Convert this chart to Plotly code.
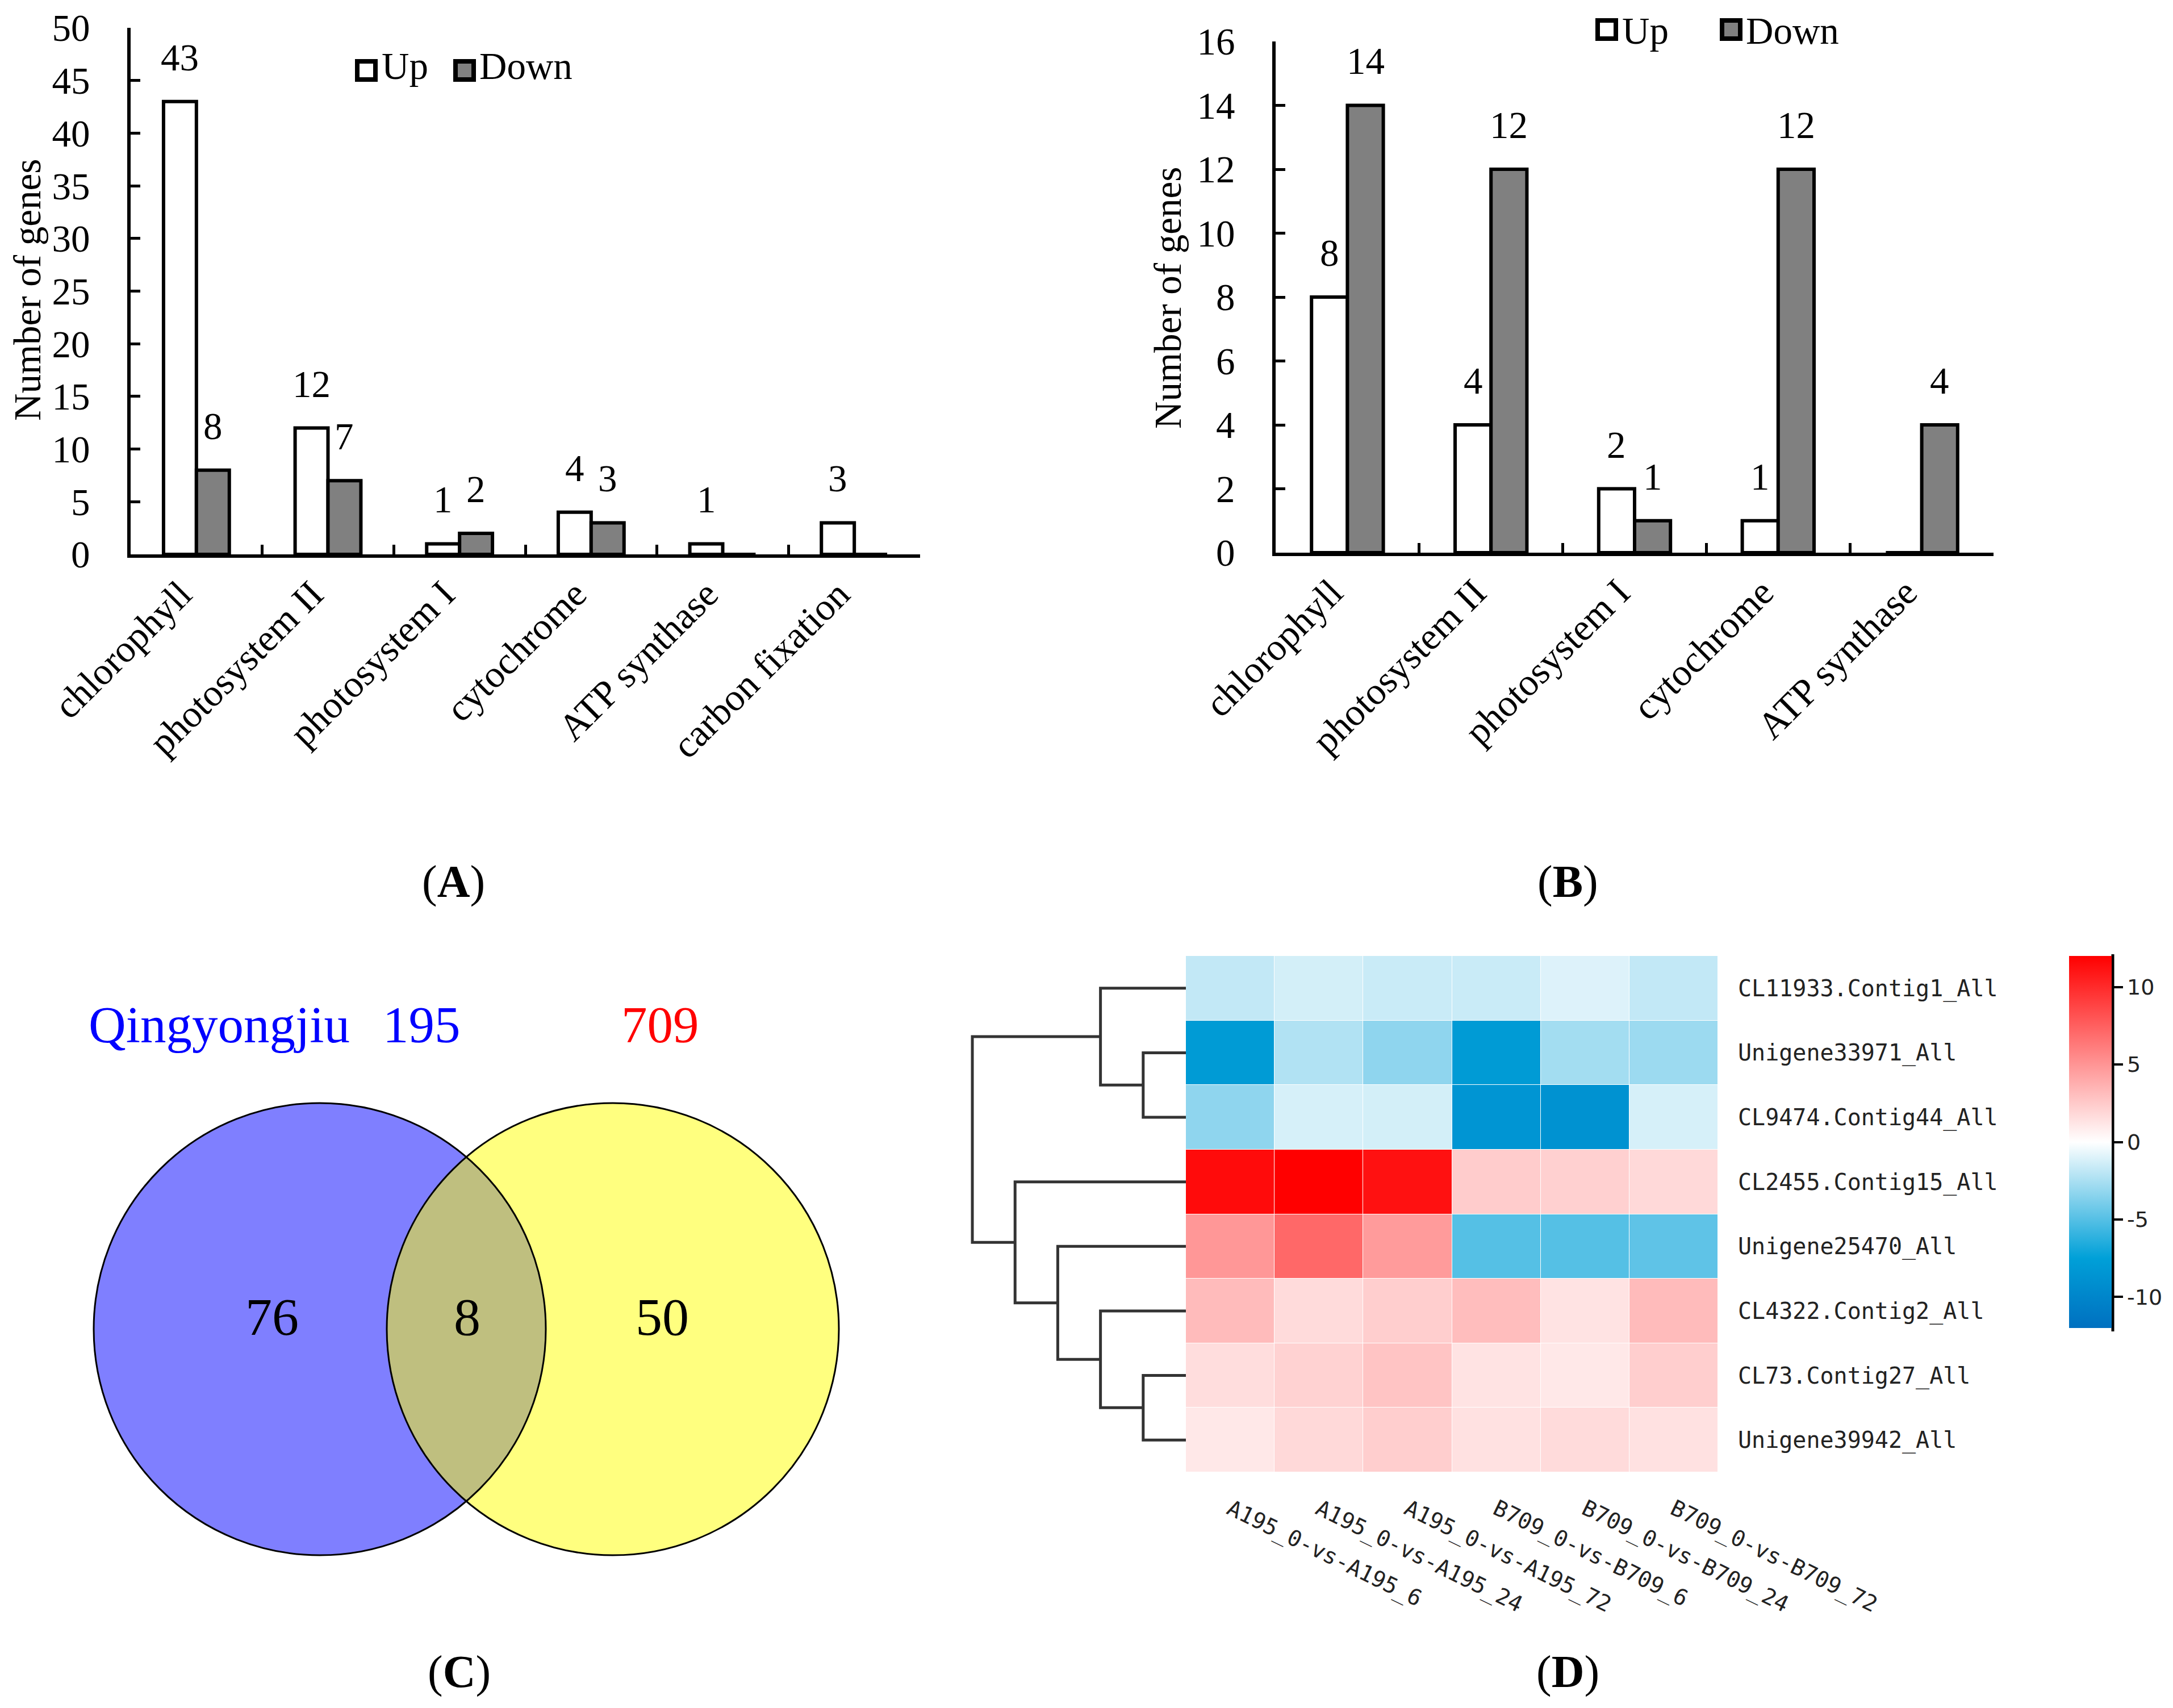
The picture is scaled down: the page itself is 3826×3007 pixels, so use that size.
import plotly.graph_objects as go

W, H = 3826, 3007

def px(x):
    return x / W

def py(y):
    return 1 - y / H

# ---------------- data ----------------
cats_a = ["chlorophyll", "photosystem II", "photosystem I", "cytochrome", "ATP synthase", "carbon fixation"]
up_a = [43, 12, 1, 4, 1, 3]
down_a = [8, 7, 2, 3, 0, 0]
yticks_a = [0, 5, 10, 15, 20, 25, 30, 35, 40, 45, 50]

cats_b = ["chlorophyll", "photosystem II", "photosystem I", "cytochrome", "ATP synthase"]
up_b = [8, 4, 2, 1, 0]
down_b = [14, 12, 1, 12, 4]
yticks_b = [0, 2, 4, 6, 8, 10, 12, 14, 16]

venn_names = ["Qingyongjiu", ""]
venn_totals = [195, 709]
venn_only_a = 76
venn_both = 8
venn_only_b = 50

genes = ["CL11933.Contig1_All", "Unigene33971_All", "CL9474.Contig44_All", "CL2455.Contig15_All",
         "Unigene25470_All", "CL4322.Contig2_All", "CL73.Contig27_All", "Unigene39942_All"]
comparisons = ["A195_0-vs-A195_6", "A195_0-vs-A195_24", "A195_0-vs-A195_72",
               "B709_0-vs-B709_6", "B709_0-vs-B709_24", "B709_0-vs-B709_72"]
expr = [
    [-1.8, -1.3, -1.6, -1.6, -1.0, -1.8],
    [-8.0, -2.3, -3.3, -8.0, -2.7, -2.9],
    [-3.3, -1.2, -1.3, -8.5, -8.8, -1.2],
    [11.5, 12.0, 11.2, 2.4, 2.2, 1.8],
    [4.9, 7.1, 4.7, -5.0, -5.0, -4.7],
    [3.2, 1.7, 2.3, 3.1, 1.3, 3.2],
    [1.6, 2.1, 2.8, 1.3, 1.1, 2.3],
    [1.1, 1.8, 2.3, 1.4, 1.7, 1.4],
]
# dendrogram merges: (left node, right node, height); nodes >= 8 are earlier merges
linkage = [(1, 2, 1), (6, 7, 1), (0, 8, 2), (5, 9, 2), (4, 11, 3), (3, 12, 4), (10, 13, 5)]
cb_vals = [-10, -5, 0, 5, 10]
cb_text = ["-10", "-5", "0", "5", "10"]

SERIF = "Liberation Serif"
MONO = "DejaVu Sans Mono"
SANS = "DejaVu Sans"
BAR_LINE = dict(color="black", width=6)

fig = go.Figure()

# ---------------- panel A / B bars ----------------
fig.add_trace(go.Bar(x=cats_a, y=up_a, marker=dict(color="white", line=BAR_LINE),
                     xaxis="x", yaxis="y", showlegend=False))
fig.add_trace(go.Bar(x=cats_a, y=down_a, marker=dict(color="#808080", line=BAR_LINE),
                     xaxis="x", yaxis="y", showlegend=False))
fig.add_trace(go.Bar(x=cats_b, y=up_b, marker=dict(color="white", line=BAR_LINE),
                     xaxis="x2", yaxis="y2", showlegend=False))
fig.add_trace(go.Bar(x=cats_b, y=down_b, marker=dict(color="#808080", line=BAR_LINE),
                     xaxis="x2", yaxis="y2", showlegend=False))

# ---------------- heatmap ----------------
fig.add_trace(go.Heatmap(
    z=expr, x=list(range(len(comparisons))), y=list(range(len(genes))),
    xaxis="x5", yaxis="y5", zmin=-12, zmax=12, xgap=1, ygap=1,
    colorscale=[[0, "#0070C0"], [0.1875, "#00A0D8"], [0.5, "#FFFFFF"], [1, "#FF0000"]],
    colorbar=dict(x=px(3635), xanchor="left", y=py((1675 + 2330) / 2), yanchor="middle",
                  len=(2330 - 1675) / H, lenmode="fraction", thickness=75, thicknessmode="pixels",
                  outlinewidth=0, xpad=0, ypad=0, ticks="outside", ticklen=20, tickwidth=4,
                  tickcolor="black", tickvals=cb_vals, ticktext=cb_text,
                  tickfont=dict(family=SANS, size=38, color="#222")),
    showscale=True, hoverinfo="skip"))

# ---------------- dendrogram ----------------
pos = {i: float(i) for i in range(len(genes))}
hgt = {i: 0.0 for i in range(len(genes))}
dx, dy = [], []
node = len(genes)
for a, b, h in linkage:
    dx += [hgt[a], h, h, hgt[b], None]
    dy += [pos[a], pos[a], pos[b], pos[b], None]
    pos[node] = (pos[a] + pos[b]) / 2
    hgt[node] = h
    node += 1
fig.add_trace(go.Scatter(x=dx, y=dy, mode="lines", line=dict(color="#333333", width=5),
                         xaxis="x4", yaxis="y4", showlegend=False, hoverinfo="skip"))

# ---------------- axes ----------------
tick_font = dict(family=SERIF, size=67, color="black")
common_x = dict(showline=True, linewidth=6, linecolor="black", showgrid=False, zeroline=False,
                ticks="inside", ticklen=17, tickwidth=5, tickcolor="black", tickson="boundaries",
                tickangle=-45, tickfont=tick_font, automargin=False, ticklabelstandoff=-2,
                ticklabelshift=-28, fixedrange=True)
common_y = dict(showline=True, linewidth=6, linecolor="black", showgrid=False, zeroline=False,
                ticks="inside", ticklen=17, tickwidth=5, tickcolor="black",
                tickfont=tick_font, automargin=False, ticklabelstandoff=52, fixedrange=True)

layout = dict(
    width=W, height=H, margin=dict(l=0, r=0, t=0, b=0), template="none",
    paper_bgcolor="white", plot_bgcolor="rgba(0,0,0,0)",
    barmode="group", bargap=0.5, bargroupgap=0, showlegend=False,
    xaxis=dict(domain=[px(222), px(1612)], anchor="y", range=[-0.5, 5.5], **common_x),
    yaxis=dict(domain=[py(968), py(41)], anchor="x", range=[0, 50], tickvals=yticks_a, **common_y),
    xaxis2=dict(domain=[px(2238), px(3502)], anchor="y2", range=[-0.5, 4.5], **common_x),
    yaxis2=dict(domain=[py(965), py(65)], anchor="x2", range=[0, 16], tickvals=yticks_b, **common_y),
    xaxis3=dict(domain=[0, px(1650)], anchor="y3", range=[0, 1650], visible=False, fixedrange=True),
    yaxis3=dict(domain=[0, py(1640)], anchor="x3", range=[3007, 1640], visible=False, fixedrange=True),
    xaxis4=dict(domain=[px(1696.5), px(2080)], anchor="y4", range=[5.1, 0], visible=False, fixedrange=True),
    yaxis4=dict(domain=[py(2584), py(1675)], anchor="x4", range=[7.5, -0.5], visible=False, fixedrange=True),
    xaxis5=dict(domain=[px(2080), px(3017)], anchor="y5", range=[-0.5, 5.5], showline=False, showgrid=False,
                zeroline=False, ticks="", tickvals=list(range(len(comparisons))), ticktext=comparisons,
                tickangle=26, tickfont=dict(family=MONO, size=39, color="#222"), automargin=False,
                ticklabelstandoff=34, fixedrange=True),
    yaxis5=dict(domain=[py(2584), py(1675)], anchor="x5", range=[7.5, -0.5], side="right", showline=False,
                showgrid=False, zeroline=False, ticks="", tickvals=list(range(len(genes))), ticktext=genes,
                tickfont=dict(family=MONO, size=40, color="#222"), automargin=False,
                ticklabelstandoff=34, fixedrange=True),
)
fig.update_layout(**layout)

ann = []
shapes = []

# value labels above bars
def value_labels(cats, ups, downs, xr, yr):
    for i in range(len(cats)):
        for off, v in ((-0.125, ups[i]), (0.125, downs[i])):
            if v:
                ann.append(dict(x=i + off, y=v, xref=xr, yref=yr, text=str(v), showarrow=False,
                                xanchor="center", yanchor="bottom", yshift=39,
                                font=dict(family=SERIF, size=67, color="black")))

value_labels(cats_a, up_a, down_a, "x", "y")
value_labels(cats_b, up_b, down_b, "x2", "y2")

# y titles
for tx, ty in ((40, 503), (2048, 517)):
    ann.append(dict(x=px(tx), y=py(ty), xref="paper", yref="paper", text="Number of genes", textangle=-90,
                    xanchor="center", yanchor="middle", showarrow=False,
                    font=dict(family=SERIF, size=67, color="black")))

# manual legends
def legend(boxes, texts, yc, tyc):
    for (x0, x1), fill, (tx, t) in zip(boxes, ["white", "#808080"], texts):
        shapes.append(dict(type="rect", xref="paper", yref="paper", x0=px(x0 + 4), x1=px(x1 - 4),
                           y0=py(yc + 16), y1=py(yc - 16), fillcolor=fill, line=dict(color="black", width=8)))
        ann.append(dict(x=px(tx), y=py(tyc), xref="paper", yref="paper", text=t, showarrow=False,
                        xanchor="left", yanchor="middle", font=dict(family=SERIF, size=67, color="black")))

legend([(617, 657), (790, 830)], [(662, "Up"), (834, "Down")], 116, 108)
legend([(2801, 2841), (3020, 3060)], [(2846, "Up"), (3064, "Down")], 44, 46)

# panel labels
for lab, x, y in (("A", 790, 1545), ("B", 2752, 1545), ("C", 800, 2935), ("D", 2752, 2935)):
    ann.append(dict(x=px(x), y=py(y), xref="paper", yref="paper", text="(<b>%s</b>)" % lab,
                    xanchor="center", yanchor="middle", showarrow=False,
                    font=dict(family=SERIF, size=80, color="black")))

# venn
R = 398
cA = (555, 2332)
cB = (1071, 2332)
for (cx, cy), fill in ((cA, "rgba(0,0,255,0.5)"), (cB, "rgba(255,255,0,0.5)")):
    shapes.append(dict(type="circle", xref="x3", yref="y3", x0=cx - R, x1=cx + R, y0=cy - R, y1=cy + R,
                       fillcolor=fill, line=dict(width=0)))
for (cx, cy) in (cA, cB):
    shapes.append(dict(type="circle", xref="x3", yref="y3", x0=cx - R, x1=cx + R, y0=cy - R, y1=cy + R,
                       fillcolor="rgba(0,0,0,0)", line=dict(color="black", width=3)))
vf = dict(family=SERIF, size=94, color="black")
for tx, val in ((471, venn_only_a), (814, venn_both), (1158, venn_only_b)):
    ann.append(dict(x=tx, y=2310, xref="x3", yref="y3", text=str(val), showarrow=False,
                    xanchor="center", yanchor="middle", font=vf))
ann.append(dict(x=378, y=1796, xref="x3", yref="y3", text=venn_names[0], showarrow=False,
                xanchor="center", yanchor="middle", font=dict(family=SERIF, size=91, color="#0000FF")))
ann.append(dict(x=734, y=1796, xref="x3", yref="y3", text=str(venn_totals[0]), showarrow=False,
                xanchor="center", yanchor="middle", font=dict(family=SERIF, size=91, color="#0000FF")))
ann.append(dict(x=1154, y=1796, xref="x3", yref="y3", text=str(venn_totals[1]), showarrow=False,
                xanchor="center", yanchor="middle", font=dict(family=SERIF, size=91, color="#FF0000")))

# colorbar right border line
shapes.append(dict(type="line", xref="paper", yref="paper", x0=px(3712), x1=px(3712), y0=py(2336), y1=py(1672),
                   line=dict(color="black", width=5)))

fig.update_layout(annotations=ann, shapes=shapes)
fig.write_html("out.html")
